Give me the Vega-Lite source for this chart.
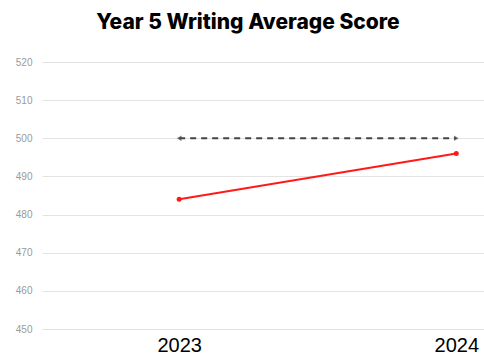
{
  "$schema": "https://vega.github.io/schema/vega-lite/v6.json",
  "autosize": {"type": "none"},
  "width": 442,
  "height": 267,
  "padding": {"left": 42, "top": 62, "right": 0, "bottom": 26},
  "background": "white",
  "title": {
    "text": "Year 5 Writing Average Score",
    "font": "Inter",
    "fontSize": 21,
    "fontWeight": 800,
    "color": "#000000",
    "anchor": "middle",
    "dx": -15,
    "offset": 24
  },
  "config": {"view": {"stroke": null}},
  "data": {
    "values": [
      {"year": 2023, "score": 484, "series": "School"},
      {"year": 2024, "score": 496, "series": "School"},
      {"year": 2023, "score": 500, "series": "Benchmark"},
      {"year": 2024, "score": 500, "series": "Benchmark"}
    ]
  },
  "encoding": {
    "x": {
      "field": "year",
      "type": "quantitative",
      "scale": {"domain": [2022.505, 2024.1], "nice": false, "zero": false},
      "axis": {
        "title": null,
        "values": [2023, 2024],
        "format": "d",
        "grid": false,
        "domain": false,
        "ticks": false,
        "labelFont": "Liberation Sans",
        "labelFontSize": 20,
        "labelColor": "#000000",
        "labelPadding": 6
      }
    },
    "y": {
      "field": "score",
      "type": "quantitative",
      "scale": {"domain": [450, 520], "nice": false, "zero": false},
      "axis": {
        "title": null,
        "values": [450, 460, 470, 480, 490, 500, 510, 520],
        "grid": true,
        "gridColor": "#e3e3e3",
        "gridWidth": 1,
        "domain": false,
        "ticks": false,
        "labelFont": "Liberation Sans",
        "labelFontSize": 10,
        "labelColor": "#9a9a9a",
        "labelPadding": 10
      }
    }
  },
  "layer": [
    {
      "transform": [{"filter": "datum.series === 'Benchmark'"}],
      "mark": {"type": "line", "color": "#444444", "strokeWidth": 2, "strokeDash": [6, 5]},
      "encoding": {}
    },
    {
      "transform": [{"filter": "datum.series === 'Benchmark'"}],
      "mark": {"type": "point", "filled": true, "color": "#444444", "size": 30},
      "encoding": {
        "shape": {
          "field": "year",
          "type": "nominal",
          "scale": {"domain": [2023, 2024], "range": ["triangle-left", "triangle-right"]},
          "legend": null
        }
      }
    },
    {
      "transform": [{"filter": "datum.series === 'School'"}],
      "mark": {"type": "line", "color": "#ff1a1a", "strokeWidth": 2},
      "encoding": {}
    },
    {
      "transform": [{"filter": "datum.series === 'School'"}],
      "mark": {"type": "circle", "color": "#ff1a1a", "size": 25, "opacity": 1},
      "encoding": {}
    }
  ]
}
